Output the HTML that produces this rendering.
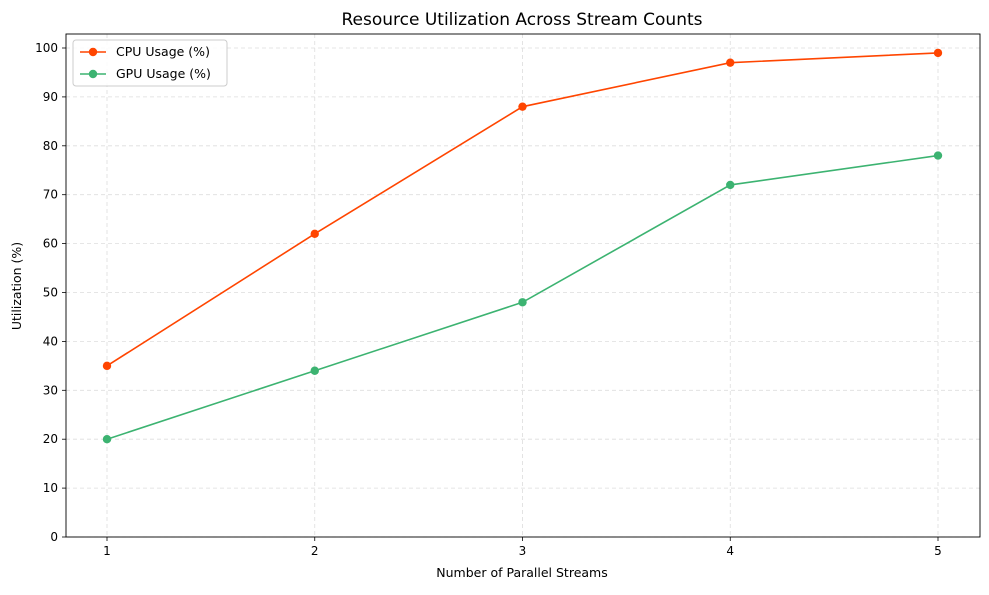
<!DOCTYPE html>
<html><head><meta charset="utf-8"><style>
body{margin:0;background:#fff;font-family:"Liberation Sans","DejaVu Sans",sans-serif;}
svg text{font-family:"DejaVu Sans","Liberation Sans",sans-serif;}
</style></head><body>
<svg id="chart" width="989" height="590" xmlns="http://www.w3.org/2000/svg"></svg>
<script>
const streams=[1,2,3,4,5];
const cpuUsage=[35,62,88,97,99];
const gpuUsage=[20,34,48,72,78];
const yTicks=[0,10,20,30,40,50,60,70,80,90,100];
const svg=document.getElementById('chart');
const NS='http://www.w3.org/2000/svg';
const L=66,R=980,T=34,B=537;
function xs(v){return 107+(v-1)*(938-107)/4;}
function ys(v){return 537-v*(537-48)/100;}
function mk(tag,attrs,parent){const e=document.createElementNS(NS,tag);for(const k in attrs)e.setAttribute(k,attrs[k]);(parent||svg).appendChild(e);return e;}
const grid=mk('g',{});


yTicks.forEach(t=>{const y=ys(t);
 mk('line',{x1:L,x2:R,y1:y,y2:y,stroke:'#ddd','stroke-dasharray':'4,3','stroke-width':0.8},grid);
 mk('line',{x1:L-4,x2:L,y1:y,y2:y,stroke:'#000','stroke-width':0.8});
 const tx=mk('text',{x:L-8,y:y+4,'text-anchor':'end','font-size':12});tx.textContent=t;
 
 
});
streams.forEach(s=>{const x=xs(s);
 mk('line',{x1:x,x2:x,y1:T,y2:B,stroke:'#ddd','stroke-dasharray':'4,3','stroke-width':0.8},grid);
 mk('line',{x1:x,x2:x,y1:B,y2:B+4,stroke:'#000','stroke-width':0.8});
 const tx=mk('text',{x:x,y:B+18,'text-anchor':'middle','font-size':12});tx.textContent=s;
 
 
});
function series(vals,color,name){
 const g=mk('g',{});
 
 
 mk('polyline',{points:vals.map((v,i)=>xs(streams[i])+','+ys(v)).join(' '),fill:'none',stroke:color,'stroke-width':1.6},g);
 vals.forEach((v,i)=>{const c=mk('circle',{cx:xs(streams[i]),cy:ys(v),r:4.2,fill:color},g);
  
  });
}
series(cpuUsage,'#ff4500','cpu-series');
series(gpuUsage,'#3cb371','gpu-series');
const frame=mk('rect',{x:L,y:T,width:R-L,height:B-T,fill:'none',stroke:'#000','stroke-width':0.9});


</script>
<svg style="position:absolute;left:0;top:0" width="989" height="590" xmlns="http://www.w3.org/2000/svg">
<text x="522" y="25" text-anchor="middle" font-size="17">Resource Utilization Across Stream Counts</text>
<text x="522" y="577" text-anchor="middle" font-size="12.5">Number of Parallel Streams</text>
<text x="21" y="286" text-anchor="middle" font-size="12.5" transform="rotate(-90 21 286)">Utilization (%)</text>
<g>
<rect x="73" y="40" width="154" height="46" rx="3" fill="#fff" fill-opacity="0.85" stroke="#ccc"/>
<g>
<line x1="80" x2="106" y1="52" y2="52" stroke="#ff4500" stroke-width="1.6"/><circle cx="93" cy="52" r="4.2" fill="#ff4500"/>
<text x="116" y="56" font-size="12.5">CPU Usage (%)</text></g>
<g>
<line x1="80" x2="106" y1="74" y2="74" stroke="#3cb371" stroke-width="1.6"/><circle cx="93" cy="74" r="4.2" fill="#3cb371"/>
<text x="116" y="78" font-size="12.5">GPU Usage (%)</text></g>
</g>
</svg>
</body></html>
